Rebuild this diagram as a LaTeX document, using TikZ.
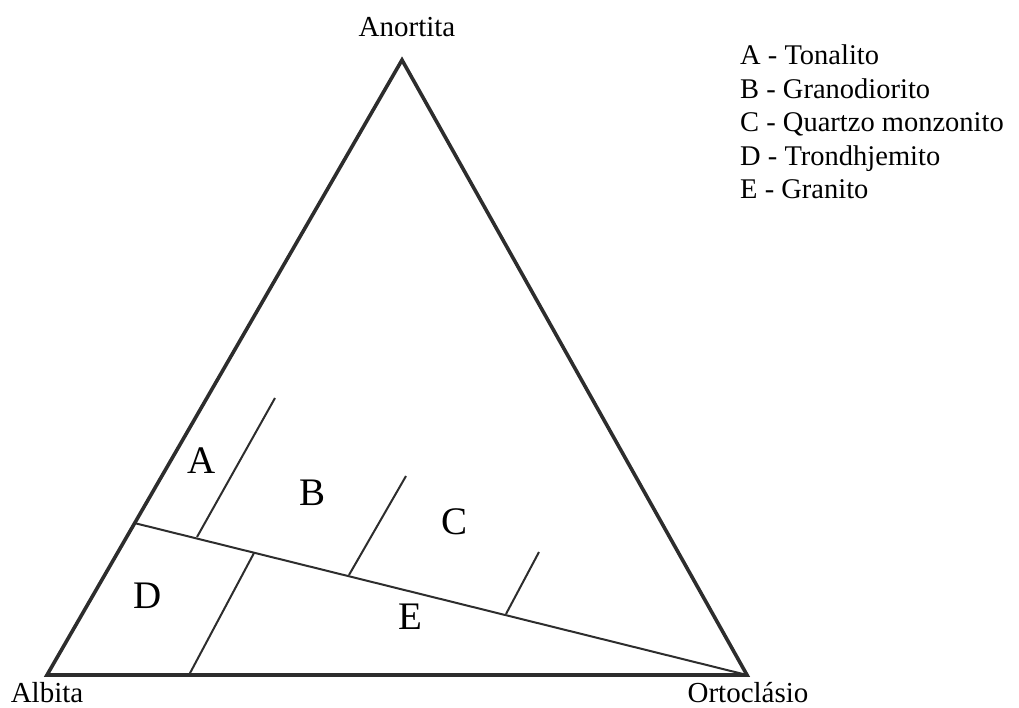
\documentclass[tikz,border=0pt]{standalone}
\usepackage{fontspec}
\setmainfont{Liberation Serif}
\usetikzlibrary{calc}
\definecolor{EdgeGray}{RGB}{45,45,45}

\begin{document}
\begin{tikzpicture}[
  x=1pt, y=-1pt,
  edge/.style={draw=EdgeGray, line width=3.6pt, line join=miter},
  field/.style={draw=EdgeGray, line width=2pt},
  corner/.style={anchor=base, font=\fontsize{29}{33}\selectfont, inner sep=0pt},
  region/.style={anchor=base, font=\fontsize{39}{44}\selectfont, inner sep=0pt},
  legend/.style={anchor=base west, font=\fontsize{28.5}{33}\selectfont, inner sep=0pt}
]
\useasboundingbox (0,0) rectangle (1019,708);

% vertices of the triangle
\coordinate (alb) at (47,675);
\coordinate (ort) at (747,675);
\coordinate (ano) at (402,60);

\draw[edge] (alb) -- (ort) -- (ano) -- cycle;

% dividing line and field boundaries
\coordinate (split) at ($(alb)!0.247!(ano)$);
\draw[field] (split) -- (ort);
\coordinate (tA) at (197,537);
\coordinate (tB) at (349,575);
\coordinate (tC) at (506,614);
\coordinate (tD) at (189,675);
\draw[field] (tA) -- (275,398);
\draw[field] (tB) -- (406,476);
\draw[field] (tC) -- (539,552);
\draw[field] (tD) -- (254,553);

% vertex labels
\node[corner] (lAno) at (407,37) {Anortita};
\node[corner] (lAlb) at (47,702) {Albita};
\node[corner] (lOrt) at (748,702) {Ortoclásio};

% fields
\node[region] (fA) at (202,473) {A};
\node[region] (fB) at (313,505) {B};
\node[region] (fC) at (454,534) {C};
\node[region] (fD) at (148,608) {D};
\node[region] (fE) at (410,629) {E};

% legend
\node[legend] (kA) at (740,65) {A - Tonalito};
\node[legend] (kB) at (740,98.5) {B - Granodiorito};
\node[legend] (kC) at (740,132) {C - Quartzo monzonito};
\node[legend] (kD) at (740,165.5) {D - Trondhjemito};
\node[legend] (kE) at (740,199) {E - Granito};

\end{tikzpicture}
\end{document}
